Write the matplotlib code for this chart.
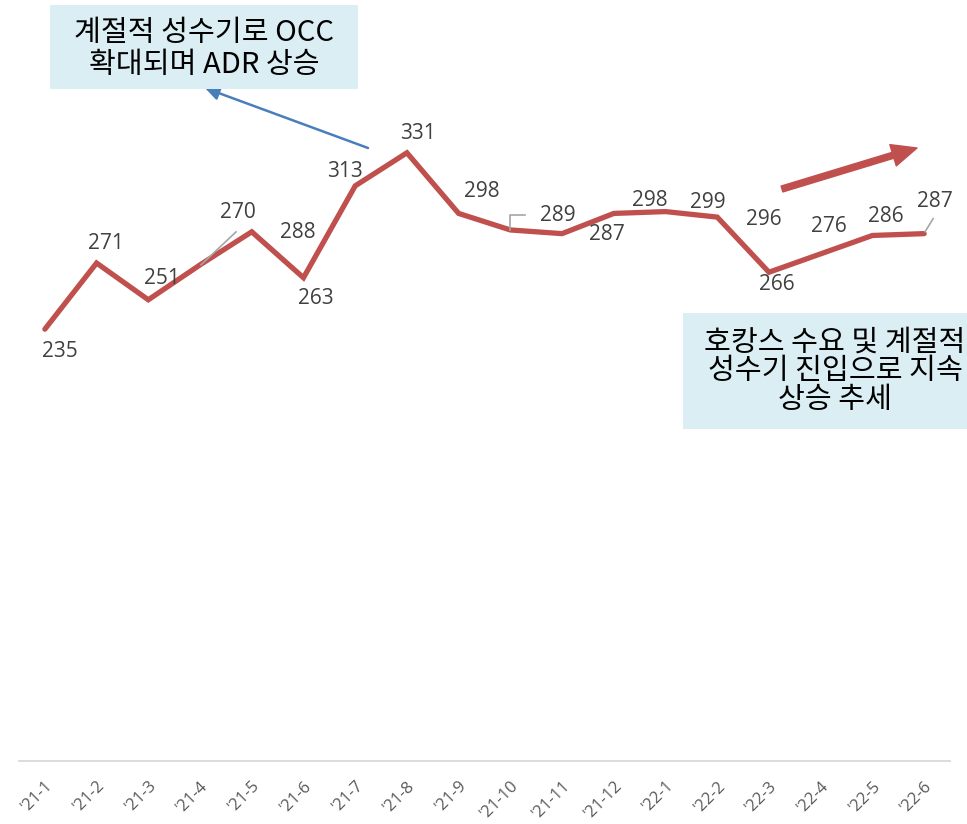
import matplotlib
matplotlib.use('Agg')
import matplotlib.pyplot as plt
from matplotlib.patches import Rectangle
from matplotlib.lines import Line2D
from matplotlib.transforms import IdentityTransform

plt.rcParams['font.family'] = ['Noto Sans CJK KR', 'DejaVu Sans']

months = ["'21-1", "'21-2", "'21-3", "'21-4", "'21-5", "'21-6", "'21-7", "'21-8", "'21-9",
          "'21-10", "'21-11", "'21-12", "'22-1", "'22-2", "'22-3", "'22-4", "'22-5", "'22-6"]
adr = [235, 271, 251, 270, 288, 263, 313, 331, 298, 289, 287, 298, 299, 296, 266, 276, 286, 287]

# label offsets from each point, in pixels (right, up)
label_dx = [15, 9, 14, 38, 46, 12, -10, 11, 23, 47, 45, 36, 42, 47, 8, 8, 13, 11]
label_dy = [-22, 20, 21, 52, -1, -21, 14, 19, 22, 14, -1, 13, 9, -2, -12, 27, 19, 32]

note_top = '계절적 성수기로 OCC\n확대되며 ADR 상승'
note_bottom = '호캉스 수요 및 계절적\n성수기 진입으로 지속\n상승 추세'

W, H = 967, 824
fig = plt.figure(figsize=(W / 100, H / 100), dpi=100)
ax = fig.add_axes([19 / W, 1 - 761 / H, 931 / W, 735 / H])

x = list(range(len(months)))
ax.plot(x, adr, color='#C0504D', lw=3.8, solid_joinstyle='miter', solid_capstyle='round', zorder=3)
ax.set_xlim(-0.5, len(months) - 0.5)
ax.set_ylim(0, 400)

for s in ['top', 'right', 'left']:
    ax.spines[s].set_visible(False)
ax.spines['bottom'].set_color('#D9D9D9')
ax.spines['bottom'].set_linewidth(1.3)
ax.set_yticks([])
ax.set_xticks(x)
ax.set_xticklabels(months, rotation=45, ha='right', va='top', rotation_mode='anchor',
                   color='#595959', fontsize=12, family='Open Sans')
ax.tick_params(axis='x', length=0, pad=12)

for i, v in enumerate(adr):
    ax.annotate(str(v), (i, v), xytext=(label_dx[i], label_dy[i]), textcoords='offset pixels',
                ha='center', va='center', fontsize=15, color='#404040', family='Open Sans')

# leader lines for displaced labels
def leader(i, pts):
    px, py = ax.transData.transform((i, adr[i]))
    xs = [px + p[0] for p in pts]
    ys = [py + p[1] for p in pts]
    fig.add_artist(Line2D(xs, ys, transform=IdentityTransform(), color='#A6A6A6', lw=1.2, zorder=4))

leader(3, [(1, 0), (36, 33)])
leader(9, [(0, 0), (0, 15), (15, 15)])
leader(17, [(1, 2), (9, 15)])

# note boxes
fig.add_artist(Rectangle((50 / W, 1 - 89 / H), 308 / W, 84 / H, transform=fig.transFigure,
                         facecolor='#DBEEF4', edgecolor='none'))
fig.text(204 / W, 1 - 49 / H, note_top, ha='center', va='center', fontsize=21,
         linespacing=1.08, color='black')
fig.add_artist(Rectangle((683 / W, 1 - 429 / H), 290 / W, 116 / H, transform=fig.transFigure,
                         facecolor='#DBEEF4', edgecolor='none'))
fig.text(835 / W, 1 - 371 / H, note_bottom, ha='center', va='center', fontsize=21,
         linespacing=0.95, color='black')

# arrows
ax.annotate('', xy=(205, H - 88), xytext=(368, H - 148), xycoords='figure pixels',
            textcoords='figure pixels',
            arrowprops=dict(arrowstyle='-|>,head_length=0.6,head_width=0.3', color='#4A7EBB',
                            lw=1.8, shrinkA=0, shrinkB=0, mutation_scale=14))
ax.annotate('', xy=(917, H - 148), xytext=(782, H - 189), xycoords='figure pixels',
            textcoords='figure pixels',
            arrowprops=dict(arrowstyle='simple,head_length=0.9,head_width=0.8,tail_width=0.22',
                            color='#C0504D', shrinkA=0, shrinkB=0, mutation_scale=20))

fig.savefig('out.png', dpi=100)
